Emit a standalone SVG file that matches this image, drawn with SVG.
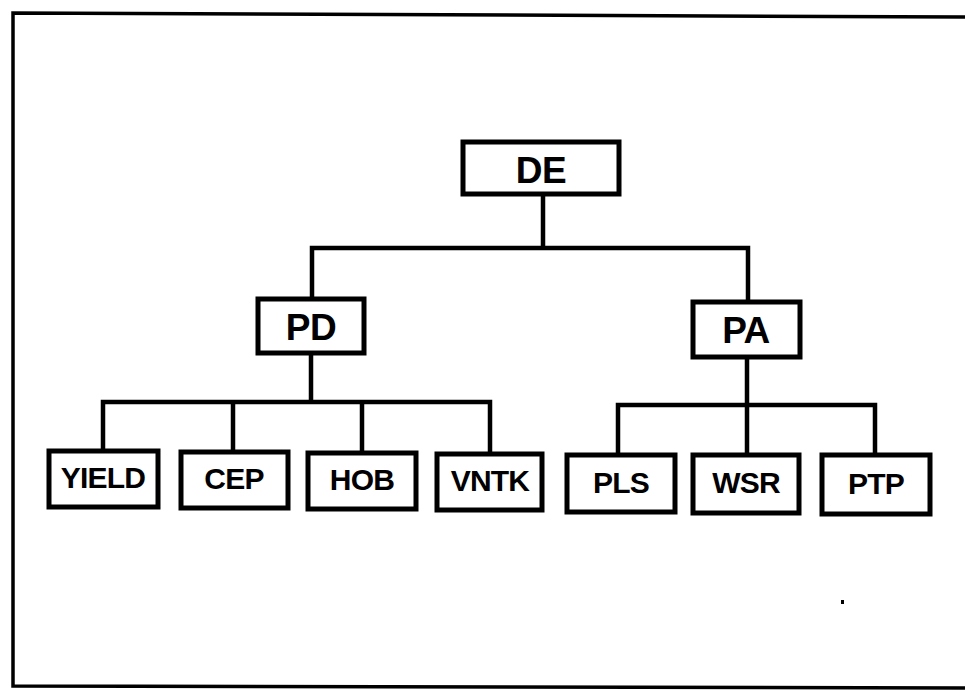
<svg xmlns="http://www.w3.org/2000/svg" width="965" height="690" viewBox="0 0 965 690">
<style>
.box{fill:#fff;stroke:#000;stroke-width:5}
.ln{fill:none;stroke:#000;stroke-width:4.5;stroke-linecap:square}
.big{font-family:"Liberation Sans",Arial,sans-serif;font-weight:bold;font-size:37px;text-anchor:middle;fill:#000;letter-spacing:-0.5px}
.sm{font-family:"Liberation Sans",Arial,sans-serif;font-weight:bold;font-size:30px;text-anchor:middle;fill:#000;letter-spacing:-0.8px}
</style>
<rect width="965" height="690" fill="#fff"/>
<path d="M965 17 L13 13 L13 686 L965 688" fill="none" stroke="#000" stroke-width="3.5"/>
<rect x="841" y="600" width="3" height="4" fill="#000"/>
<g id="connectors">
<path class="ln" d="M543 195 V248 M312 298 V248 H748 V302"/>
<path class="ln" d="M311 353 V402 M103 451 V402 H490 V453 M233 402 V451 M362 402 V452"/>
<path class="ln" d="M747 357 V455 M618 455 V405 H875 V455"/>
</g>
<g id="DE"><rect class="box" x="463" y="142" width="156" height="52"/><text class="big" x="541" y="183">DE</text></g>
<g id="PD"><rect class="box" x="258" y="299" width="106" height="54"/><text class="big" x="311" y="340">PD</text></g>
<g id="PA"><rect class="box" x="693" y="302" width="107" height="55"/><text class="big" x="746" y="343">PA</text></g>
<g id="YIELD"><rect class="box" x="49" y="451" width="109" height="56"/><text class="sm" x="103" y="488">YIELD</text></g>
<g id="CEP"><rect class="box" x="181" y="452" width="107" height="56"/><text class="sm" x="234" y="489">CEP</text></g>
<g id="HOB"><rect class="box" x="308" y="453" width="108" height="56"/><text class="sm" x="362" y="490">HOB</text></g>
<g id="VNTK"><rect class="box" x="437" y="454" width="105" height="56"/><text class="sm" x="490" y="491">VNTK</text></g>
<g id="PLS"><rect class="box" x="567" y="455" width="108" height="57"/><text class="sm" x="621" y="493">PLS</text></g>
<g id="WSR"><rect class="box" x="693" y="455" width="106" height="58"/><text class="sm" x="746" y="493">WSR</text></g>
<g id="PTP"><rect class="box" x="822" y="455" width="108" height="59"/><text class="sm" x="876" y="494">PTP</text></g>
</svg>
